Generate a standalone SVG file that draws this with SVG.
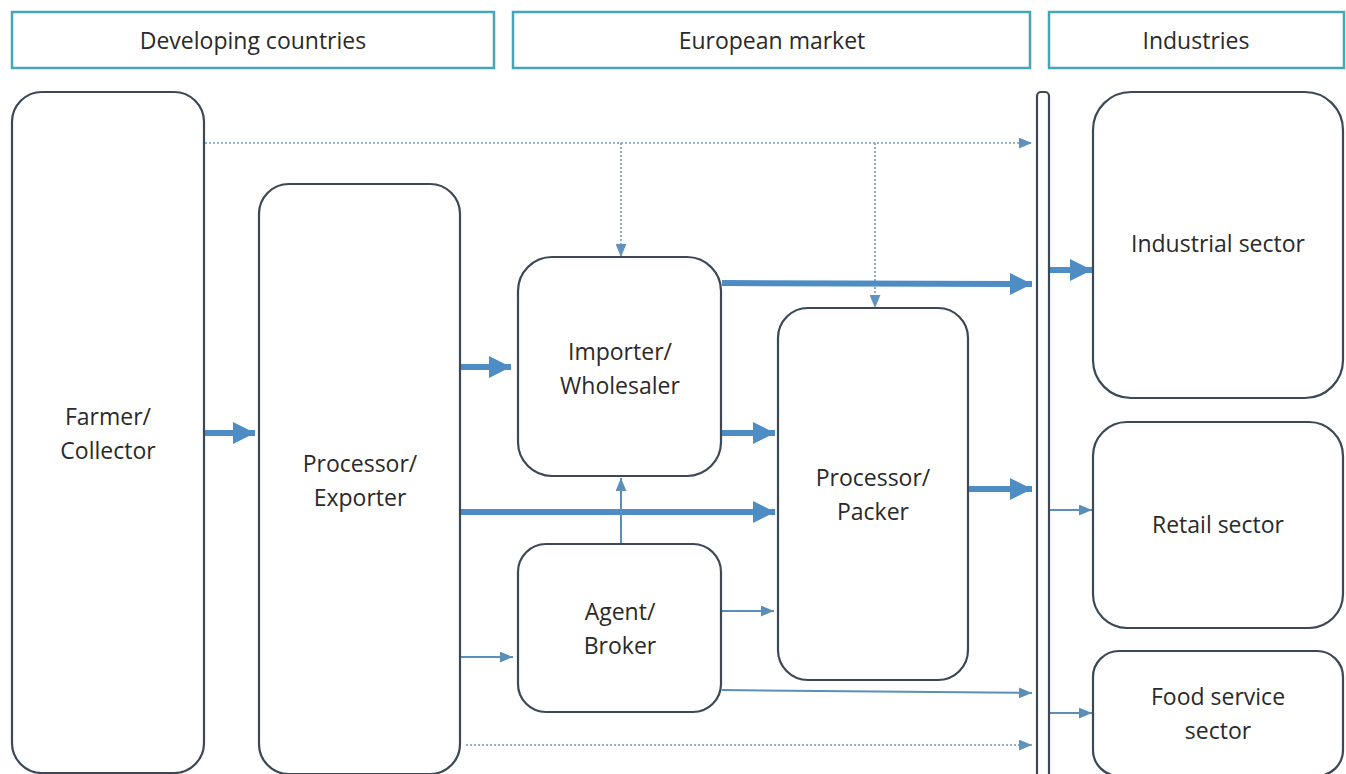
<svg xmlns="http://www.w3.org/2000/svg" width="1346" height="774" viewBox="0 0 1346 774">
<defs>
<style>
.hdr{fill:#fff;stroke:#45a6b8;stroke-width:2.5}
.box{fill:#fff;stroke:#3c4856;stroke-width:2.2}
.t{font-family:"Open Sans","Liberation Sans",sans-serif;font-size:23px;fill:#2a2a2a;text-anchor:middle}
.thick{stroke:#4e8cc4;stroke-width:6;fill:none}
.thin{stroke:#5b8fb8;stroke-width:2;fill:none}
.dot{stroke:#6f9dc0;stroke-width:1.6;fill:none;stroke-dasharray:2 2}
</style>
<marker id="big" viewBox="0 0 20 20" refX="20" refY="10" markerWidth="22" markerHeight="22" markerUnits="userSpaceOnUse" orient="auto"><path d="M0,0 L20,10 L0,20 Z" fill="#4e8cc4"/></marker>
<marker id="sm" viewBox="0 0 12 10" refX="12" refY="5" markerWidth="13" markerHeight="11" markerUnits="userSpaceOnUse" orient="auto"><path d="M0,0 L12,5 L0,10 Z" fill="#5b8fb8"/></marker>
<marker id="dm" viewBox="0 0 12 10" refX="12" refY="5" markerWidth="13" markerHeight="11" markerUnits="userSpaceOnUse" orient="auto"><path d="M0,0 L12,5 L0,10 Z" fill="#5f93bd"/></marker>
</defs>
<rect width="1346" height="774" fill="#fff"/>

<g id="hdr-developing"><rect class="hdr" x="12" y="12" width="482" height="56"/><text class="t" x="253" y="49">Developing countries</text></g>
<g id="hdr-european"><rect class="hdr" x="513" y="12" width="517" height="56"/><text class="t" x="772" y="49">European market</text></g>
<g id="hdr-industries"><rect class="hdr" x="1049" y="12" width="295" height="56"/><text class="t" x="1196" y="49">Industries</text></g>

<g id="connectors">
<line class="dot" x1="205" y1="143" x2="1032" y2="143" marker-end="url(#dm)"/>
<line class="dot" x1="621" y1="143" x2="621" y2="257" marker-end="url(#dm)"/>
<line class="dot" x1="875" y1="143" x2="875" y2="308" marker-end="url(#dm)"/>
<line class="thick" x1="205" y1="433" x2="255" y2="433" marker-end="url(#big)"/>
<line class="thick" x1="461" y1="367" x2="511" y2="367" marker-end="url(#big)"/>
<line class="thick" x1="461" y1="512" x2="775" y2="512" marker-end="url(#big)"/>
<line class="thin" x1="461" y1="657" x2="513" y2="657" marker-end="url(#sm)"/>
<line class="dot" x1="466" y1="745" x2="1032" y2="745" marker-end="url(#dm)"/>
<line class="thick" x1="722" y1="283" x2="1032" y2="284" marker-end="url(#big)"/>
<line class="thick" x1="722" y1="433" x2="775" y2="433" marker-end="url(#big)"/>
<line class="thin" x1="621" y1="543" x2="621" y2="478" marker-end="url(#sm)"/>
<line class="thin" x1="722" y1="611" x2="774" y2="611" marker-end="url(#sm)"/>
<line class="thin" x1="722" y1="690" x2="1032" y2="693" marker-end="url(#sm)"/>
<line class="thick" x1="969" y1="489" x2="1032" y2="489" marker-end="url(#big)"/>
<line class="thick" x1="1050" y1="270" x2="1092" y2="270" marker-end="url(#big)"/>
<line class="thin" x1="1050" y1="510" x2="1092" y2="510" marker-end="url(#sm)"/>
<line class="thin" x1="1050" y1="713" x2="1092" y2="713" marker-end="url(#sm)"/>
</g>

<g id="farmer"><rect class="box" x="12" y="92" width="192" height="681" rx="30"/><text class="t" x="108" y="425">Farmer/</text><text class="t" x="108" y="459">Collector</text></g>
<g id="processor-exporter"><rect class="box" x="259" y="184" width="201" height="590" rx="30"/><text class="t" x="360" y="472">Processor/</text><text class="t" x="360" y="506">Exporter</text></g>
<g id="importer"><rect class="box" x="518" y="257" width="203" height="219" rx="34"/><text class="t" x="620" y="360">Importer/</text><text class="t" x="620" y="394">Wholesaler</text></g>
<g id="agent"><rect class="box" x="518" y="544" width="203" height="168" rx="28"/><text class="t" x="620" y="620">Agent/</text><text class="t" x="620" y="654">Broker</text></g>
<g id="processor-packer"><rect class="box" x="778" y="308" width="190" height="372" rx="30"/><text class="t" x="873" y="486">Processor/</text><text class="t" x="873" y="520">Packer</text></g>
<g id="bar"><rect class="box" x="1037" y="92" width="12" height="690" rx="4"/></g>
<g id="industrial"><rect class="box" x="1093" y="92" width="250" height="306" rx="38"/><text class="t" x="1218" y="252">Industrial sector</text></g>
<g id="retail"><rect class="box" x="1093" y="422" width="250" height="206" rx="34"/><text class="t" x="1218" y="533">Retail sector</text></g>
<g id="food"><rect class="box" x="1093" y="651" width="250" height="125" rx="26"/><text class="t" x="1218" y="705">Food service</text><text class="t" x="1218" y="739">sector</text></g>
</svg>
